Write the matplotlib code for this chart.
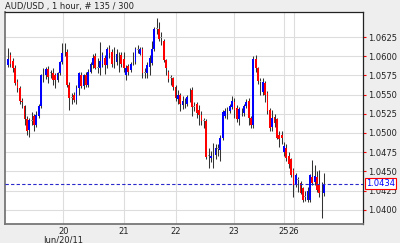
import matplotlib
matplotlib.use("Agg")
import matplotlib.pyplot as plt
import matplotlib.transforms as mtransforms
import numpy as np

# hourly AUD/USD candles
opens = [1.0588, 1.0602, 1.0594, 1.0585, 1.0566, 1.0558, 1.0542, 1.0535, 1.0518, 1.0504,
         1.0516, 1.0522, 1.0510, 1.0522, 1.0535, 1.0575, 1.0575, 1.0583, 1.0578, 1.0578,
         1.0575, 1.0569, 1.0578, 1.0592, 1.0605, 1.0606, 1.0563, 1.0546, 1.0550, 1.0543,
         1.0559, 1.0576, 1.0561, 1.0575, 1.0563, 1.0580, 1.0588, 1.0600, 1.0585, 1.0584,
         1.0590, 1.0598, 1.0588, 1.0610, 1.0606, 1.0591, 1.0592, 1.0600, 1.0602, 1.0596,
         1.0575, 1.0587, 1.0582, 1.0592, 1.0592, 1.0608, 1.0603, 1.0610, 1.0578, 1.0578,
         1.0586, 1.0591, 1.0610, 1.0636, 1.0636, 1.0624, 1.0620, 1.0595, 1.0580, 1.0572,
         1.0571, 1.0560, 1.0544, 1.0550, 1.0537, 1.0541, 1.0538, 1.0548, 1.0556, 1.0534,
         1.0538, 1.0530, 1.0524, 1.0516, 1.0516, 1.0470, 1.0467, 1.0472, 1.0471, 1.0479,
         1.0478, 1.0494, 1.0522, 1.0527, 1.0529, 1.0534, 1.0540, 1.0532, 1.0518, 1.0528,
         1.0526, 1.0535, 1.0542, 1.0520, 1.0510, 1.0597, 1.0584, 1.0567, 1.0553, 1.0565,
         1.0552, 1.0530, 1.0508, 1.0521, 1.0518, 1.0497, 1.0498, 1.0475, 1.0481, 1.0470,
         1.0466, 1.0452, 1.0433, 1.0439, 1.0435, 1.0428, 1.0417, 1.0413, 1.0413, 1.0442,
         1.0436, 1.0442, 1.0434, 1.0424, 1.0422]
highs = [1.0611, 1.0606, 1.0598, 1.0588, 1.0570, 1.0561, 1.0546, 1.0537, 1.0522, 1.0520,
         1.0527, 1.0525, 1.0528, 1.0538, 1.0577, 1.0585, 1.0586, 1.0587, 1.0582, 1.0584,
         1.0578, 1.0580, 1.0594, 1.0617, 1.0617, 1.0610, 1.0566, 1.0552, 1.0553, 1.0562,
         1.0580, 1.0580, 1.0577, 1.0579, 1.0583, 1.0593, 1.0603, 1.0604, 1.0598, 1.0618,
         1.0605, 1.0601, 1.0612, 1.0614, 1.0610, 1.0612, 1.0610, 1.0606, 1.0606, 1.0606,
         1.0588, 1.0590, 1.0593, 1.0605, 1.0612, 1.0614, 1.0612, 1.0612, 1.0585, 1.0592,
         1.0602, 1.0620, 1.0638, 1.0650, 1.0645, 1.0631, 1.0622, 1.0597, 1.0582, 1.0576,
         1.0573, 1.0562, 1.0556, 1.0552, 1.0548, 1.0546, 1.0549, 1.0558, 1.0560, 1.0540,
         1.0540, 1.0536, 1.0528, 1.0520, 1.0518, 1.0480, 1.0476, 1.0487, 1.0486, 1.0485,
         1.0497, 1.0530, 1.0532, 1.0534, 1.0538, 1.0548, 1.0546, 1.0536, 1.0534, 1.0533,
         1.0538, 1.0544, 1.0545, 1.0522, 1.0600, 1.0601, 1.0586, 1.0572, 1.0571, 1.0568,
         1.0555, 1.0533, 1.0530, 1.0525, 1.0520, 1.0502, 1.0502, 1.0488, 1.0485, 1.0475,
         1.0468, 1.0455, 1.0448, 1.0442, 1.0437, 1.0430, 1.0425, 1.0430, 1.0447, 1.0465,
         1.0458, 1.0450, 1.0452, 1.0436, 1.0448]
lows = [1.0586, 1.0586, 1.0580, 1.0562, 1.0553, 1.0538, 1.0532, 1.0510, 1.0498, 1.0495,
        1.0510, 1.0503, 1.0508, 1.0520, 1.0532, 1.0567, 1.0570, 1.0565, 1.0572, 1.0562,
        1.0558, 1.0566, 1.0575, 1.0590, 1.0600, 1.0560, 1.0530, 1.0538, 1.0540, 1.0538,
        1.0550, 1.0558, 1.0557, 1.0560, 1.0560, 1.0578, 1.0585, 1.0583, 1.0578, 1.0575,
        1.0586, 1.0577, 1.0585, 1.0598, 1.0586, 1.0584, 1.0588, 1.0580, 1.0586, 1.0580,
        1.0569, 1.0576, 1.0579, 1.0588, 1.0590, 1.0604, 1.0601, 1.0572, 1.0572, 1.0572,
        1.0575, 1.0588, 1.0607, 1.0629, 1.0620, 1.0615, 1.0592, 1.0575, 1.0566, 1.0562,
        1.0556, 1.0542, 1.0538, 1.0528, 1.0531, 1.0532, 1.0535, 1.0540, 1.0522, 1.0528,
        1.0520, 1.0510, 1.0510, 1.0507, 1.0466, 1.0455, 1.0462, 1.0454, 1.0466, 1.0470,
        1.0464, 1.0491, 1.0519, 1.0518, 1.0526, 1.0531, 1.0520, 1.0514, 1.0511, 1.0522,
        1.0522, 1.0532, 1.0510, 1.0506, 1.0507, 1.0580, 1.0564, 1.0550, 1.0549, 1.0540,
        1.0525, 1.0503, 1.0503, 1.0508, 1.0492, 1.0482, 1.0486, 1.0470, 1.0463, 1.0454,
        1.0443, 1.0416, 1.0430, 1.0423, 1.0420, 1.0410, 1.0411, 1.0410, 1.0410, 1.0432,
        1.0432, 1.0423, 1.0416, 1.0389, 1.0418]
closes = [1.0597, 1.0590, 1.0584, 1.0565, 1.0558, 1.0542, 1.0540, 1.0518, 1.0503, 1.0517,
          1.0516, 1.0510, 1.0524, 1.0535, 1.0575, 1.0575, 1.0583, 1.0573, 1.0578, 1.0569,
          1.0569, 1.0578, 1.0592, 1.0604, 1.0605, 1.0563, 1.0545, 1.0546, 1.0543, 1.0559,
          1.0578, 1.0561, 1.0575, 1.0563, 1.0580, 1.0590, 1.0598, 1.0585, 1.0585, 1.0594,
          1.0601, 1.0588, 1.0609, 1.0604, 1.0590, 1.0591, 1.0603, 1.0600, 1.0590, 1.0584,
          1.0584, 1.0580, 1.0590, 1.0592, 1.0610, 1.0608, 1.0610, 1.0578, 1.0578, 1.0588,
          1.0598, 1.0610, 1.0635, 1.0636, 1.0623, 1.0624, 1.0595, 1.0585, 1.0570, 1.0572,
          1.0560, 1.0546, 1.0550, 1.0538, 1.0542, 1.0541, 1.0547, 1.0548, 1.0534, 1.0534,
          1.0526, 1.0524, 1.0515, 1.0516, 1.0469, 1.0470, 1.0470, 1.0472, 1.0480, 1.0479,
          1.0494, 1.0527, 1.0528, 1.0527, 1.0535, 1.0542, 1.0530, 1.0518, 1.0531, 1.0528,
          1.0535, 1.0540, 1.0519, 1.0510, 1.0597, 1.0584, 1.0568, 1.0567, 1.0566, 1.0550,
          1.0528, 1.0506, 1.0520, 1.0513, 1.0494, 1.0492, 1.0494, 1.0483, 1.0468, 1.0460,
          1.0445, 1.0432, 1.0445, 1.0439, 1.0422, 1.0413, 1.0417, 1.0425, 1.0445, 1.0435,
          1.0444, 1.0426, 1.0422, 1.0424, 1.0434]

# day boundaries (candle index) and their labels
day_pos = [23.4, 49.2, 71.2, 95.6, 116.8, 121.1]
day_labels = ["20", "21", "22", "23", "25", "26"]
price_ticks = [1.0400, 1.0425, 1.0450, 1.0475, 1.0500, 1.0525, 1.0550, 1.0575, 1.0600, 1.0625]
last_price = 1.0434

o = np.array(opens)
h = np.array(highs)
l = np.array(lows)
c = np.array(closes)
x = np.arange(len(c))

colors = np.where(c > o, "#0000ff", np.where(c < o, "#ff0000", "#999999"))
bottom = np.minimum(o, c)
height = np.maximum(np.abs(c - o), 0.00008)

fig = plt.figure(figsize=(4, 2.43), dpi=100, facecolor="#eeeeee")
ax = fig.add_axes([5 / 400, 1 - 224 / 243, 358 / 400, 212 / 243])
ax.set_facecolor("white")

ax.vlines(x, l, h, color="#333333", lw=0.75, zorder=2)
ax.bar(x, height, bottom=bottom, width=0.75, color=colors, linewidth=0, zorder=3)

ax.axhline(last_price, color="#2a2acc", lw=0.8, ls=(0, (3, 2)), zorder=4)

ax.set_xlim(-1.3, 150.5)
ax.set_ylim(1.03814, 1.06576)

ax.yaxis.tick_right()
ax.set_yticks(price_ticks)
ax.set_yticklabels(["%.4f" % p for p in price_ticks])
ax.tick_params(axis="y", color="red", labelcolor="#222222", length=2.5, width=0.8,
               labelsize=6, pad=1.5)
ax.set_xticks(day_pos)
ax.set_xticklabels(day_labels)
ax.tick_params(axis="x", length=0, labelsize=6, pad=2.5, labelcolor="#222222")

ax.grid(color="#dddddd", lw=0.8)
ax.set_axisbelow(True)

for s in ["left", "bottom"]:
    ax.spines[s].set_color("#777777")
    ax.spines[s].set_linewidth(1.3)
for s in ["top", "right"]:
    ax.spines[s].set_color("#222222")
    ax.spines[s].set_linewidth(0.9)

trans = mtransforms.blended_transform_factory(ax.transAxes, ax.transData)
ax.text(1.009, last_price, "%.4f" % last_price, transform=trans, color="#0000ff",
        fontsize=6, va="center", ha="left", zorder=5,
        bbox=dict(boxstyle="square,pad=0.15", fc="white", ec="red", lw=0.8))

fig.text(5 / 400, 1 - 6 / 243, "AUD/USD , 1 hour, # 135 / 300", fontsize=6,
         va="center", ha="left", color="#222222")
fig.text(63 / 400, 1 - 240 / 243, "Jun/20/11", fontsize=6, va="center", ha="center",
         color="#222222")

fig.savefig("out.png", dpi=100, facecolor=fig.get_facecolor())
